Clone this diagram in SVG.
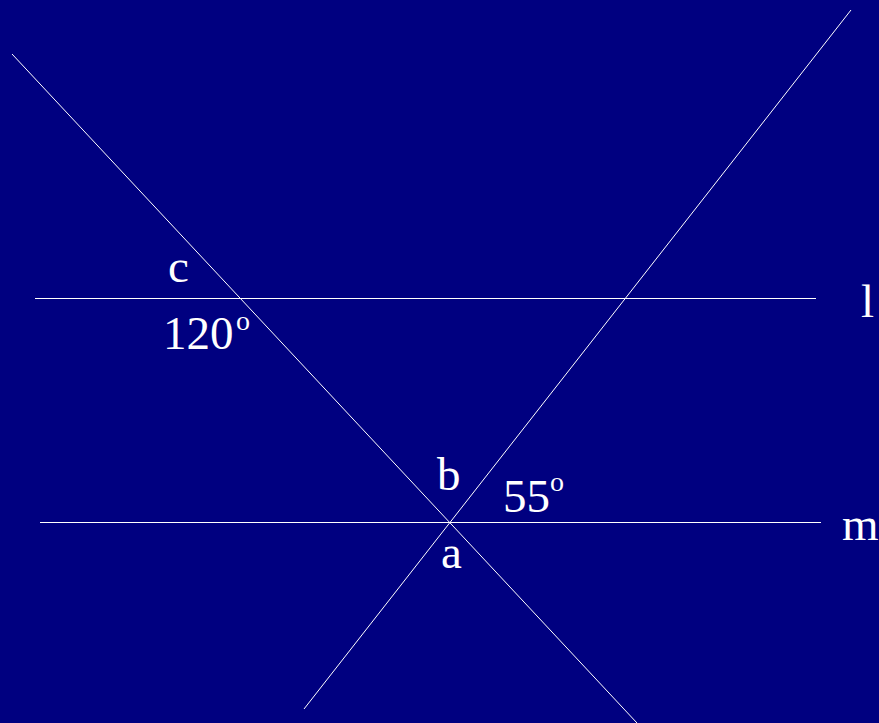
<svg xmlns="http://www.w3.org/2000/svg" width="879" height="723" viewBox="0 0 879 723">
<style>
.ln{stroke:#ffffff;stroke-width:1;fill:none}
text{font-family:'Liberation Serif','Times New Roman',serif;fill:#ffffff}
.t{font-size:47px}
.s{font-size:28px}
</style>
<rect width="879" height="723" fill="#000080"/>
<g id="connectors">
<line class="ln" x1="12" y1="54" x2="637" y2="723"/>
<line class="ln" x1="851" y1="10" x2="304" y2="709"/>
<line class="ln" x1="35" y1="298.5" x2="816" y2="298.5"/>
<line class="ln" x1="40" y1="522.5" x2="821" y2="522.5"/>
</g>
<g id="label-c"><text class="t" x="168" y="282">c</text></g>
<g id="label-120"><text class="t" x="163" y="349">120</text><text class="s" x="236" y="330">o</text></g>
<g id="label-l"><text class="t" x="861" y="317">l</text></g>
<g id="label-b"><text class="t" x="437" y="490">b</text></g>
<g id="label-55"><text class="t" x="503" y="512">55</text><text class="s" x="550" y="491">o</text></g>
<g id="label-m"><text class="t" x="842" y="540">m</text></g>
<g id="label-a"><text class="t" x="441" y="568">a</text></g>
</svg>
